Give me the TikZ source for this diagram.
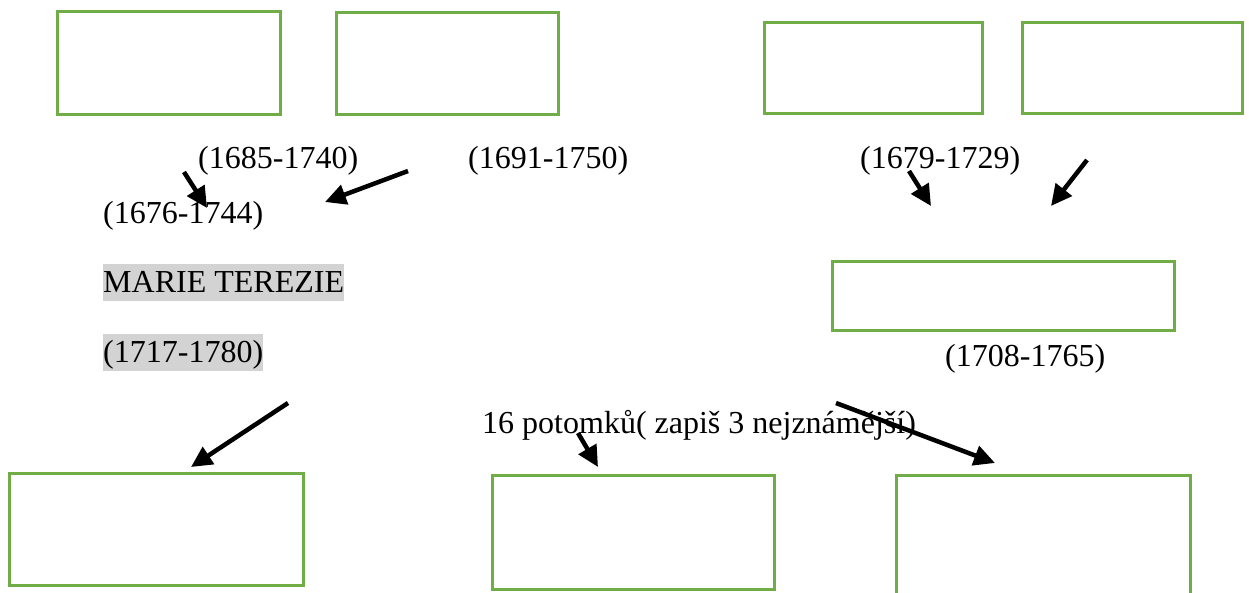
\documentclass[tikz,border=0pt]{standalone}
\usepackage{fontspec}
\setmainfont{Liberation Serif}
\usetikzlibrary{arrows.meta}
\definecolor{boxgreen}{HTML}{70AD47}
\definecolor{hl}{HTML}{D3D3D3}
\begin{document}
\begin{tikzpicture}[x=1pt,y=-1pt,
  emptybox/.style={draw=boxgreen,line width=3pt},
  lbl/.style={anchor=base west,inner sep=0pt,font=\fontsize{32}{38}\selectfont},
  hlbl/.style={lbl,fill=hl},
  arr/.style={line width=4.5pt,-{Triangle[length=21pt,width=20pt]}}]
\useasboundingbox (0,0) rectangle (1249,592);
% boxes
\draw[emptybox] (57,11) rectangle (280,114) coordinate (b1);
\draw[emptybox] (336,12) rectangle (558,114) coordinate (b2);
\draw[emptybox] (764,22) rectangle (982,113) coordinate (b3);
\draw[emptybox] (1022,22) rectangle (1242,113) coordinate (b4);
\draw[emptybox] (832,261) rectangle (1174,330) coordinate (b5);
\draw[emptybox] (9,473) rectangle (303,585) coordinate (b6);
\draw[emptybox] (492,475) rectangle (774,589) coordinate (b7);
\draw[emptybox] (896,475) rectangle (1190,605) coordinate (b8);
% texts
\node[lbl] (t1) at (198,168) {(1685-1740)};
\node[lbl] (t2) at (468,168) {(1691-1750)};
\node[lbl] (t3) at (860,168) {(1679-1729)};
\node[lbl] (t4) at (103,223) {(1676-1744)};
\node[hlbl,text height=28pt,text depth=9pt] (t5) at (103,292) {MARIE TEREZIE};
\node[hlbl,text height=28pt,text depth=9pt] (t6) at (103,362) {(1717-1780)};
\node[lbl] (t7) at (945,366) {(1708-1765)};
\node[lbl] (t8) at (482,433) {16 potomků( zapiš 3 nejznámější)};
% arrow endpoints
\coordinate (a1s) at (184,172); \coordinate (a1e) at (207,208);
\coordinate (a2s) at (408,171); \coordinate (a2e) at (325,202);
\coordinate (a3s) at (909,171); \coordinate (a3e) at (931,206);
\coordinate (a4s) at (1087,160); \coordinate (a4e) at (1051,206);
\coordinate (a5s) at (288,403); \coordinate (a5e) at (191,467);
\coordinate (a6s) at (578,433); \coordinate (a6e) at (598,467);
\coordinate (a7s) at (836,403); \coordinate (a7e) at (995,463);
\draw[arr] (a1s) -- (a1e);
\draw[arr] (a2s) -- (a2e);
\draw[arr] (a3s) -- (a3e);
\draw[arr] (a4s) -- (a4e);
\draw[arr] (a5s) -- (a5e);
\draw[arr] (a6s) -- (a6e);
\draw[arr] (a7s) -- (a7e);
\end{tikzpicture}
\end{document}
